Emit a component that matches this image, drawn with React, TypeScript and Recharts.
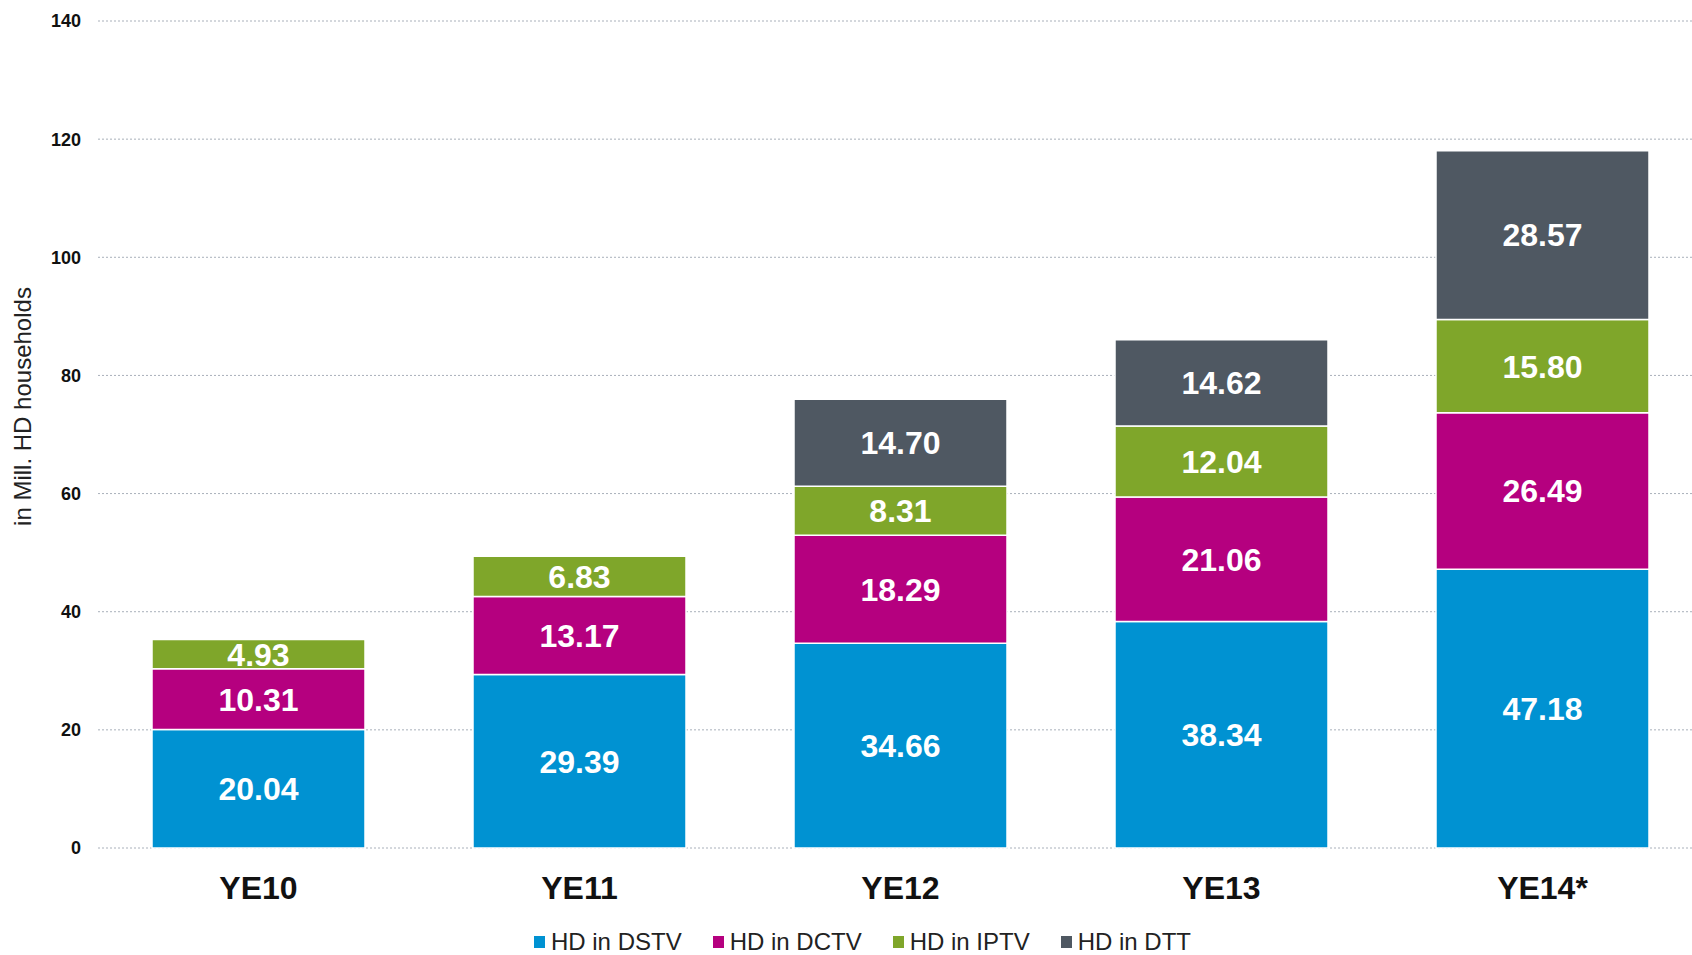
import {
  BarChart,
  Bar,
  XAxis,
  YAxis,
  CartesianGrid,
  Legend,
  LabelList,
} from "recharts";

const categories = ["YE10", "YE11", "YE12", "YE13", "YE14*"];
const dstv = [20.04, 29.39, 34.66, 38.34, 47.18];
const dctv = [10.31, 13.17, 18.29, 21.06, 26.49];
const iptv = [4.93, 6.83, 8.31, 12.04, 15.8];
const dtt = [null, null, 14.7, 14.62, 28.57];
const yTicks = [0, 20, 40, 60, 80, 100, 120, 140];

const series = [
  { key: "dstv", name: "HD in DSTV", color: "#0092D2" },
  { key: "dctv", name: "HD in DCTV", color: "#B5007F" },
  { key: "iptv", name: "HD in IPTV", color: "#7FA62A" },
  { key: "dtt", name: "HD in DTT", color: "#4F5862" },
];

const data = categories.map((c, i) => ({
  category: c,
  dstv: dstv[i],
  dctv: dctv[i],
  iptv: iptv[i],
  dtt: dtt[i],
}));

const FONT = "Arial, 'Liberation Sans', sans-serif";

const formatLabel = (v: any) =>
  v === null || v === undefined ? "" : Number(v).toFixed(2);

function LegendContent() {
  return (
    <div
      style={{
        display: "flex",
        justifyContent: "center",
        gap: 31,
        fontFamily: FONT,
        fontSize: 24,
        color: "#222",
        height: 26,
        alignItems: "center",
        paddingLeft: 22,
      }}
    >
      {series.map((s) => (
        <div key={s.key} style={{ display: "flex", alignItems: "center" }}>
          <span
            style={{
              width: 11,
              height: 12,
              background: s.color,
              display: "inline-block",
              marginRight: 6,
            }}
          />
          <span>{s.name}</span>
        </div>
      ))}
    </div>
  );
}

function YLabel({ viewBox }: any) {
  const cx = 22;
  const cy = viewBox.y + viewBox.height / 2 - 28;
  return (
    <text
      x={cx}
      y={cy}
      transform={`rotate(-90, ${cx}, ${cy})`}
      textAnchor="middle"
      dominantBaseline="central"
      fontFamily={FONT}
      fontSize={24}
      fill="#222"
    >
      in Mill. HD households
    </text>
  );
}

export default function App() {
  return (
    <div
      style={{
        position: "fixed",
        left: 0,
        top: 0,
        width: 1692,
        height: 955,
        overflow: "hidden",
        background: "#fff",
      }}
    >
      <BarChart
        width={1710}
        height={955}
        data={data}
        margin={{ top: 21, right: 7, bottom: 0, left: 0 }}
        barSize={213}
      >
        <CartesianGrid
          vertical={false}
          stroke="#a9b0ba"
          strokeDasharray="2 2"
        />
        <XAxis
          dataKey="category"
          axisLine={false}
          tickLine={false}
          tickSize={0}
          tickMargin={28}
          height={81}
          tick={{
            fontFamily: FONT,
            fontSize: 32,
            fontWeight: 700,
            fill: "#111",
          }}
        />
        <YAxis
          width={98}
          domain={[0, 140]}
          ticks={yTicks}
          axisLine={false}
          tickLine={false}
          tickSize={0}
          tickMargin={17}
          tick={{
            fontFamily: FONT,
            fontSize: 18,
            fontWeight: 700,
            fill: "#111",
          }}
          label={<YLabel />}
        />
        <Legend verticalAlign="bottom" content={<LegendContent />} />
        {series.map((s) => (
          <Bar
            key={s.key}
            dataKey={s.key}
            name={s.name}
            stackId="a"
            fill={s.color}
            stroke="#fff"
            strokeWidth={1.5}
            isAnimationActive={false}
          >
            <LabelList
              dataKey={s.key}
              position="center"
              formatter={formatLabel}
              fill="#fff"
              fontFamily={FONT}
              fontSize={32}
              fontWeight={700}
            />
          </Bar>
        ))}
      </BarChart>
    </div>
  );
}
